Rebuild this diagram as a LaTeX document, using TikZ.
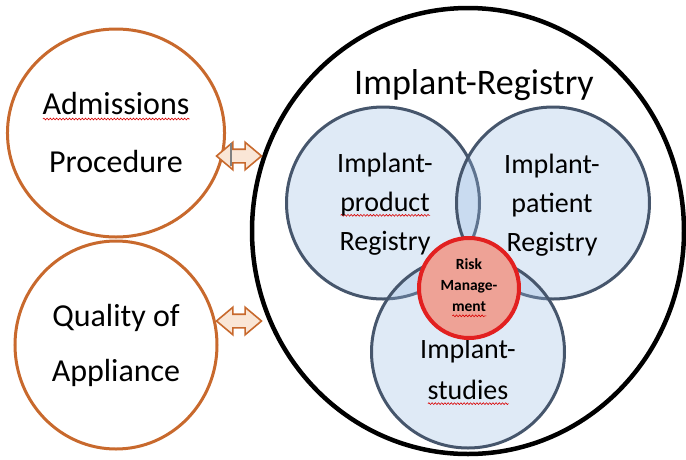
\documentclass[tikz,border=0pt]{standalone}
\usepackage{fontspec}
\setmainfont{Carlito}
\usetikzlibrary{shapes.geometric,shapes.arrows,decorations.pathmorphing}

\definecolor{ringorange}{RGB}{200,105,45}
\definecolor{arrowfill}{RGB}{250,230,214}
\definecolor{venntint}{RGB}{150,185,225}
\definecolor{venndraw}{RGB}{70,86,108}
\definecolor{riskred}{RGB}{226,32,32}
\definecolor{riskfill}{RGB}{238,162,150}

\tikzset{
  squiggle/.style={draw=red!85!black, fill=none, draw opacity=1,
    line width=0.6pt, decorate,
    decoration={snake, amplitude=0.9pt, segment length=3.2pt}},
}
% red wavy underline (spell-check mark)
\newsavebox\spellbox
\newcommand\spellmark[1]{\sbox\spellbox{#1}\leavevmode
  \rlap{\tikz[baseline=0pt]\draw[squiggle]
    (0pt,-4pt) -- (\wd\spellbox,-4pt);}\usebox\spellbox}

\begin{document}
\begin{tikzpicture}[
    x = 1pt,
    y = -1pt,
    sidering/.style = {ellipse, draw=ringorange, line width=3pt,
      minimum width=202pt, minimum height=208pt, align=center,
      font=\fontsize{32}{58}\selectfont},
    blockarrow/.style = {double arrow, draw=ringorange, fill=arrowfill,
      line width=1.6pt, minimum height=45pt, inner xsep=0pt, inner ysep=6pt,
      double arrow head extend=7pt, double arrow tip angle=80},
    vennring/.style = {ellipse, draw=venndraw, line width=3pt,
      fill=venntint, fill opacity=0.3, draw opacity=1,
      minimum width=193pt, minimum height=192pt},
    venntext/.style = {align=center, inner sep=0pt,
      font=\fontsize{28}{39}\selectfont},
    ]
    \useasboundingbox (0,0) rectangle (686,459);
    % outer registry
    \node[ellipse, draw=black, line width=4.5pt, minimum width=432pt,
      minimum height=446pt] (reg) at (468,231) {};
    \node[font=\fontsize{36}{40}\selectfont] (regtitle) at (474,85)
      {Implant-Registry};
    % side topics
    \node[sidering] (adm) at (116,133)
      {\spellmark{Admissions}\\Procedure};
    \node[sidering, font=\fontsize{32}{55}\selectfont] (qual) at (116,345)
      {Quality of\\Appliance};
    % block arrows
    \node[blockarrow] (admarrow) at (239,156) {};
    \node[blockarrow] (qualarrow) at (239,321) {};
    \draw[gray, line width=1.4pt] (231,143) -- (231,166);
    % venn circles
    \node[vennring] (prod) at (383,203) {};
    \node[vennring] (pat) at (553,203) {};
    \node[vennring] (stud) at (468,352) {};
    \node[venntext] (prodtxt) at (385,204)
      {Implant-\\\spellmark{product}\\Registry};
    \node[venntext] (pattxt) at (552,205)
      {Implant-\\patient\\Registry};
    \node[venntext, font=\fontsize{28}{41}\selectfont] (studtxt) at (468,372)
      {Implant-\\\spellmark{studies}};
    % risk management
    \node[circle, draw=riskred, fill=riskfill, line width=4pt,
      minimum size=100pt, align=center, inner sep=0pt,
      font=\bfseries\fontsize{15.5}{21}\selectfont] (risk) at (469,288)
      {Risk\\Manage-\\\spellmark{ment}};
\end{tikzpicture}
\end{document}
